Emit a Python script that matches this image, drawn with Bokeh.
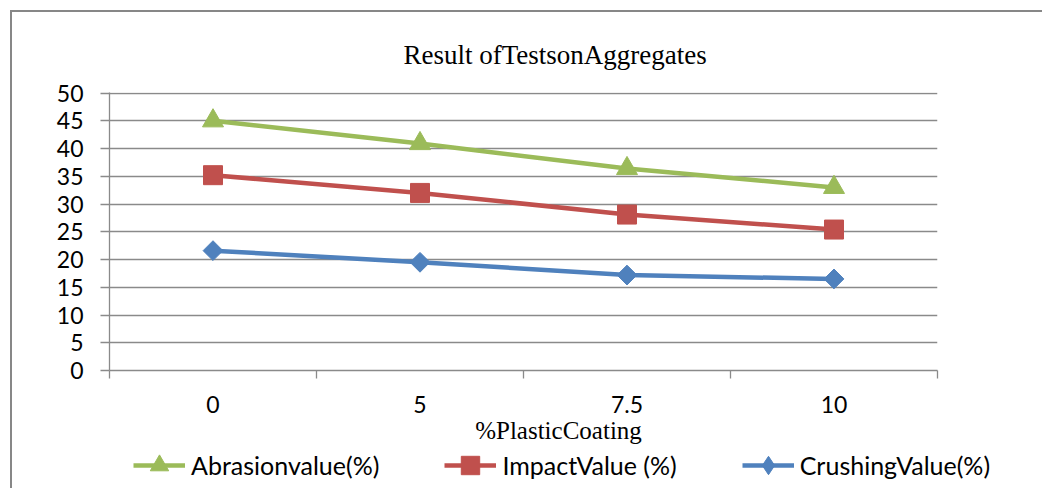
import math
from bokeh.plotting import figure
from bokeh.layouts import column
from bokeh.models import Range1d, FixedTicker, Title, Legend, LegendItem, Label
from bokeh.embed import file_html
from bokeh.resources import INLINE

categories = ["0", "5", "7.5", "10"]
abrasion = [45.0, 40.9, 36.4, 33.0]
impact = [35.2, 32.0, 28.1, 25.4]
crushing = [21.6, 19.5, 17.2, 16.5]
y_ticks = list(range(0, 51, 5))

title_text = "Result ofTestsonAggregates"
x_title = "%PlasticCoating"
names = ["Abrasionvalue(%)", "ImpactValue (%)", "CrushingValue(%)"]

GREEN = "#9BBB59"
RED = "#C0504D"
BLUE = "#4F81BD"
GRID = "#8a8a8a"
FONT = "Lato"
SERIF = "Liberation Serif"

xs = [i + 0.5 for i in range(len(categories))]

W = 1030
p = figure(width=W, height=406, output_backend="svg", toolbar_location=None,
           x_range=Range1d(0, len(categories)), y_range=Range1d(0, 50.1),
           min_border_left=97, min_border_right=105, min_border_top=80,
           min_border_bottom=48, title=None)
p.frame_align = False
p.outline_line_color = None
p.background_fill_color = "white"
p.border_fill_color = "white"

# main title
p.add_layout(Title(text=title_text, align="left", offset=294, standoff=46,
                   text_font=SERIF, text_font_size="27px", text_font_style="normal",
                   text_color="black"), "above")

# axes
p.xaxis.ticker = FixedTicker(ticks=xs, minor_ticks=list(range(len(categories) + 1)))
p.xaxis.major_label_overrides = {x: c for x, c in zip(xs, categories)}
p.xaxis.major_tick_line_color = None
p.xaxis.major_tick_out = 0
p.xaxis.major_tick_in = 0
p.xaxis.minor_tick_out = 8
p.xaxis.minor_tick_in = 0
p.xaxis.minor_tick_line_color = GRID
p.xaxis.minor_tick_line_width = 1.3
p.xaxis.axis_line_color = GRID
p.xaxis.axis_line_width = 1.3
p.xaxis.major_label_standoff = 17
p.xaxis.major_label_text_font = FONT
p.xaxis.major_label_text_font_size = "23px"
p.xaxis.major_label_text_color = "black"

p.yaxis.ticker = FixedTicker(ticks=y_ticks)
p.yaxis.major_tick_out = 9
p.yaxis.major_tick_in = 0
p.yaxis.major_tick_line_color = GRID
p.yaxis.major_tick_line_width = 1.3
p.yaxis.minor_tick_line_color = None
p.yaxis.axis_line_color = GRID
p.yaxis.axis_line_width = 1.3
p.yaxis.major_label_standoff = 17
p.yaxis.major_label_text_font = FONT
p.yaxis.major_label_text_font_size = "23px"
p.yaxis.major_label_text_color = "black"

p.xgrid.grid_line_color = None
p.ygrid.ticker = FixedTicker(ticks=y_ticks)
p.ygrid.grid_line_color = GRID
p.ygrid.grid_line_width = 1.3

# series
p.line(xs, abrasion, line_color=GREEN, line_width=4.5)
p.scatter(xs, abrasion, marker="triangle", size=21, fill_color=GREEN, line_color=GREEN)
p.line(xs, impact, line_color=RED, line_width=4.5)
p.scatter(xs, impact, marker="square", size=19, fill_color=RED, line_color=RED)
p.line(xs, crushing, line_color=BLUE, line_width=4.5)
p.scatter(xs, crushing, marker="square", size=14, angle=math.pi / 4,
          fill_color=BLUE, line_color=BLUE)

# lower strip: x-axis title and legend (pixel-sized ranges)
H2 = 70
q = figure(width=W, height=H2, output_backend="svg", toolbar_location=None,
           x_range=Range1d(0, W), y_range=Range1d(0, H2),
           min_border=0, min_border_left=0, min_border_right=0,
           min_border_top=0, min_border_bottom=0, title=None)
q.frame_align = False
q.axis.visible = False
q.grid.visible = False
q.outline_line_color = None
q.border_fill_color = "white"
q.background_fill_color = "white"

q.add_layout(Label(x=546, y=58, text=x_title, text_align="center",
                   text_baseline="middle", text_font=SERIF, text_font_size="25px",
                   text_color="black"))

# legend keys: same series renderers, hidden in this strip
l_a = q.line(xs, abrasion, line_color=GREEN, line_width=4.5, visible=False)
m_a = q.scatter(xs, abrasion, marker="triangle", fill_color=GREEN, line_color=GREEN,
                visible=False)
l_i = q.line(xs, impact, line_color=RED, line_width=4.5, visible=False)
m_i = q.scatter(xs, impact, marker="square", fill_color=RED, line_color=RED,
                visible=False)
l_c = q.line(xs, crushing, line_color=BLUE, line_width=4.5, visible=False)
m_c = q.scatter(xs, crushing, marker="diamond", fill_color=BLUE, line_color=BLUE,
                visible=False)

legend = Legend(items=[
    LegendItem(label=names[0], renderers=[l_a, m_a]),
    LegendItem(label=names[1], renderers=[l_i, m_i]),
    LegendItem(label=names[2], renderers=[l_c, m_c]),
], orientation="horizontal", location=(121, 0), glyph_width=52, glyph_height=46,
    label_standoff=6, spacing=65, padding=0, margin=0, border_line_color=None,
    background_fill_alpha=0, inactive_fill_alpha=0, label_text_font=FONT,
    label_text_font_size="25px", label_text_color="black")
q.add_layout(legend, "center")

layout = column(p, q, spacing=0)
layout.styles = {"border-top": "2px solid #878787", "border-left": "2px solid #878787",
                 "margin-top": "10px", "margin-left": "10px"}

open("out.html", "w").write(file_html(layout, INLINE))
